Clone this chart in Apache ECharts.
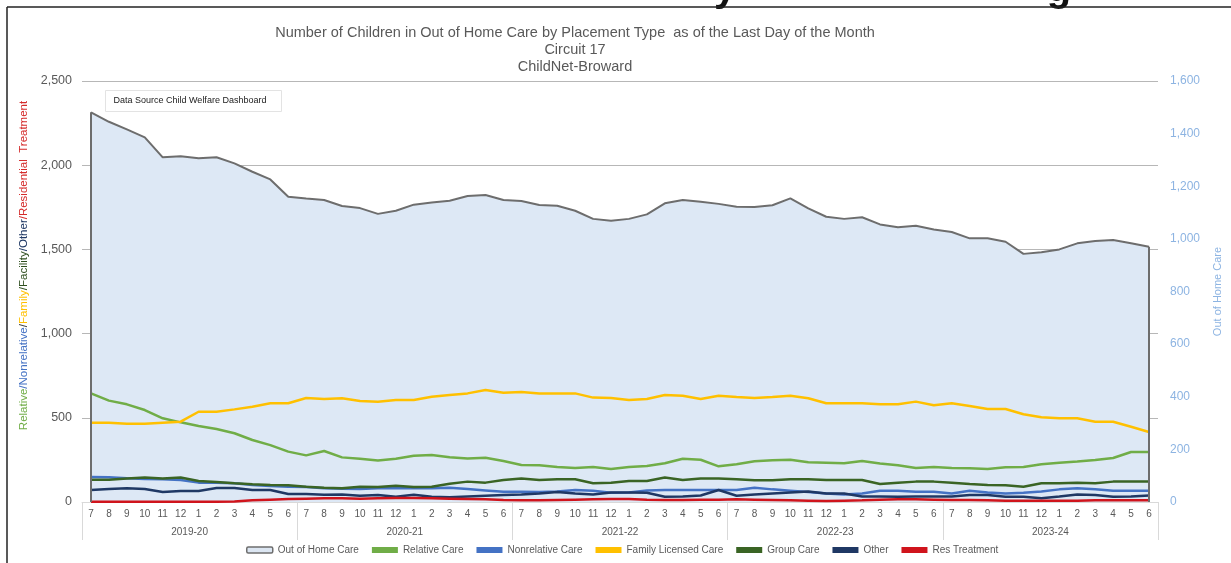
<!DOCTYPE html>
<html>
<head>
<meta charset="utf-8">
<script src="https://cdn.jsdelivr.net/npm/echarts@6/dist/echarts.min.js"></script>
<style>
  html, body { margin: 0; padding: 0; background: #fff; }
  #chart { width: 1231px; height: 563px; }
</style>
</head>
<body>
<div id="chart"></div>
<script>
// Fiscal years and the month numbers shown under each point (July .. June)
const fiscalYears = ['2019-20', '2020-21', '2021-22', '2022-23', '2023-24'];
const months = ['7', '8', '9', '10', '11', '12', '1', '2', '3', '4', '5', '6'];

// Monthly counts, July 2019 through June 2024
const outOfHomeCare = [1481, 1445, 1416, 1386, 1310, 1314, 1306, 1310, 1287, 1255, 1226, 1160,
  1153, 1148, 1125, 1117, 1095, 1107, 1130, 1138, 1145, 1163, 1167, 1148,
  1144, 1129, 1126, 1107, 1076, 1069, 1076, 1093, 1135, 1148, 1141, 1133,
  1122, 1121, 1128, 1154, 1116, 1084, 1076, 1082, 1055, 1044, 1050, 1036,
  1026, 1002, 1002, 989, 943, 949, 960, 983, 992, 996, 983, 970];
const relativeCare = [645, 602, 580, 546, 497, 473, 451, 433, 408, 368, 338, 299,
  277, 303, 265, 257, 247, 257, 275, 279, 266, 259, 263, 243,
  220, 218, 208, 202, 208, 196, 208, 214, 230, 257, 251, 212,
  224, 242, 248, 251, 236, 233, 230, 243, 228, 218, 202, 208,
  202, 200, 196, 206, 208, 224, 233, 240, 249, 261, 297, 297];
const nonrelativeCare = [148, 147, 141, 137, 135, 131, 115, 115, 111, 101, 95, 91,
  89, 81, 79, 77, 81, 81, 81, 81, 84, 77, 69, 61,
  61, 59, 63, 71, 67, 55, 57, 69, 71, 71, 71, 71,
  71, 85, 75, 67, 59, 51, 45, 51, 67, 67, 61, 61,
  51, 67, 57, 51, 55, 63, 75, 81, 75, 67, 67, 67];
const familyLicensedCare = [471, 471, 465, 465, 471, 477, 536, 536, 550, 566, 586, 586,
  618, 612, 616, 600, 596, 606, 606, 625, 636, 645, 665, 649,
  653, 645, 645, 645, 620, 618, 606, 612, 635, 631, 612, 631,
  624, 618, 624, 631, 616, 586, 586, 586, 580, 580, 596, 574,
  586, 570, 552, 552, 521, 503, 497, 497, 477, 477, 447, 416];
const groupCare = [132, 132, 140, 146, 139, 146, 125, 119, 111, 105, 101, 99,
  91, 85, 81, 91, 89, 97, 89, 91, 108, 121, 115, 131,
  139, 131, 135, 135, 111, 115, 125, 125, 145, 131, 139, 139,
  135, 129, 129, 135, 135, 131, 131, 131, 107, 115, 121, 121,
  115, 107, 101, 99, 91, 111, 111, 115, 111, 121, 121, 121];
const other = [71, 77, 81, 77, 59, 65, 65, 83, 83, 71, 71, 47,
  47, 43, 45, 37, 41, 31, 43, 31, 28, 33, 37, 41,
  45, 51, 59, 51, 45, 57, 57, 55, 31, 33, 39, 71,
  37, 45, 51, 57, 63, 51, 51, 33, 33, 31, 33, 33,
  33, 41, 41, 31, 31, 22, 33, 45, 41, 31, 33, 39];
const resTreatment = [2, 2, 2, 2, 2, 2, 2, 2, 3, 10, 14, 18,
  20, 22, 22, 20, 22, 24, 24, 22, 20, 18, 16, 12,
  10, 10, 12, 14, 16, 18, 18, 14, 12, 12, 14, 14,
  16, 14, 12, 10, 8, 6, 8, 10, 14, 16, 16, 14,
  12, 12, 10, 8, 8, 8, 8, 8, 10, 10, 10, 10];

// One unique category per month: "2019-20|7" etc.
const categories = [];
fiscalYears.forEach(fy => months.forEach(m => categories.push(fy + '|' + m)));
const last = categories.length - 1;

const FONT = "'Liberation Sans', Arial, sans-serif";
const NARROW = "'Liberation Sans Narrow', 'Liberation Sans', Arial, sans-serif";
const GRAY = '#595959';
const AXIS_BLUE = '#8db4e2';

const chart = echarts.init(document.getElementById('chart'), null, { renderer: 'canvas' });

const lineSeries = (name, data, color) => ({
  name, type: 'line', data, xAxisIndex: 0, yAxisIndex: 0,
  symbol: 'none', smooth: false,
  lineStyle: { color, width: 2.5 }, itemStyle: { color },
  z: 3
});

const nameFont = { fontFamily: FONT, fontSize: 11.5 };

chart.setOption({
  animation: false,
  backgroundColor: '#ffffff',
  title: {
    text: 'Number of Children in Out of Home Care by Placement Type  as of the Last Day of the Month\nCircuit 17\nChildNet-Broward',
    left: 570, top: 19, textAlign: 'center',
    textStyle: { fontFamily: FONT, fontSize: 14.5, fontWeight: 'normal', color: GRAY, lineHeight: 17 }
  },
  grid: [
    { left: 91, right: 82, top: 81, bottom: 61, containLabel: false },
    { left: 82, right: 73, top: 81, bottom: 61, containLabel: false }
  ],
  xAxis: [
    {
      type: 'category', gridIndex: 0, data: categories, boundaryGap: false,
      axisLine: { show: false }, axisTick: { show: false },
      axisLabel: {
        interval: 0, margin: 7, fontFamily: FONT, fontSize: 10, color: GRAY,
        formatter: v => v.split('|')[1]
      },
      splitLine: { show: false }
    },
    {
      type: 'category', gridIndex: 1, data: fiscalYears, boundaryGap: true,
      axisLine: { show: true, lineStyle: { color: '#d9d9d9', width: 1 } },
      axisTick: { show: true, interval: 0, length: 38, lineStyle: { color: '#d9d9d9', width: 1 } },
      axisLabel: { interval: 0, margin: 25, fontFamily: FONT, fontSize: 10, color: GRAY },
      splitLine: { show: false }
    }
  ],
  yAxis: [
    {
      type: 'value', gridIndex: 0, position: 'left', min: 0, max: 2500, interval: 500,
      axisLine: { show: false }, axisTick: { show: false }, splitLine: { show: false },
      axisLabel: { margin: 19, fontFamily: FONT, fontSize: 12.5, color: GRAY },
      name: '{g|Relative}{b|/Nonrelative}{k|/}{y|Family}{d|/Facility}{n|/Other}{r|/Residential  Treatment}',
      nameLocation: 'middle', nameRotate: 90, nameGap: 56,
      nameTextStyle: {
        fontFamily: FONT, fontSize: 11.5, padding: [0, 0, 0, 52],
        rich: {
          g: Object.assign({ color: '#70ad47' }, nameFont),
          b: Object.assign({ color: '#4472c4' }, nameFont),
          k: Object.assign({ color: '#404040' }, nameFont),
          y: Object.assign({ color: '#ffc000' }, nameFont),
          d: Object.assign({ color: '#2f4f1f' }, nameFont),
          n: Object.assign({ color: '#1f3864' }, nameFont),
          r: Object.assign({ color: '#d42a2a' }, nameFont)
        }
      }
    },
    {
      type: 'value', gridIndex: 0, position: 'right', min: 0, max: 1600, interval: 200,
      axisLine: { show: false }, axisTick: { show: false }, splitLine: { show: false },
      axisLabel: { margin: 21, fontFamily: FONT, fontSize: 12, color: AXIS_BLUE },
      name: 'Out of Home Care', nameLocation: 'middle', nameRotate: 90, nameGap: 63,
      nameTextStyle: { fontFamily: FONT, fontSize: 11, color: AXIS_BLUE }
    },
    {
      type: 'value', gridIndex: 1, min: 0, max: 2500, interval: 500,
      axisLine: { show: false }, axisTick: { show: false }, axisLabel: { show: false },
      splitLine: { show: true, lineStyle: { color: '#b7b7b7', width: 1 } }
    }
  ],
  legend: {
    bottom: 3, left: 241, itemGap: 13, itemWidth: 26, itemHeight: 6,
    textStyle: { fontFamily: NARROW, fontSize: 10, color: GRAY },
    data: [
      { name: 'Out of Home Care', icon: 'roundRect', itemStyle: { color: '#dce6f2', borderColor: '#6d6d6d', borderWidth: 1.5 } },
      { name: 'Relative Care', icon: 'rect' },
      { name: 'Nonrelative Care', icon: 'rect' },
      { name: 'Family Licensed Care', icon: 'rect' },
      { name: 'Group Care', icon: 'rect' },
      { name: 'Other', icon: 'rect' },
      { name: 'Res Treatment', icon: 'rect' }
    ]
  },
  series: [
    {
      name: 'Out of Home Care', type: 'line', data: outOfHomeCare,
      xAxisIndex: 0, yAxisIndex: 1, symbol: 'none', z: 2,
      lineStyle: { color: '#6d6d6d', width: 2 },
      itemStyle: { color: '#dce6f2', borderColor: '#6d6d6d' },
      areaStyle: { color: '#dde8f5', opacity: 1 },
      markLine: {
        silent: true, symbol: ['none', 'none'], label: { show: false },
        lineStyle: { color: '#6d6d6d', width: 2, type: 'solid' },
        data: [
          [{ coord: [categories[0], 0] }, { coord: [categories[0], outOfHomeCare[0]] }],
          [{ coord: [categories[last], 0] }, { coord: [categories[last], outOfHomeCare[last]] }]
        ]
      }
    },
    lineSeries('Relative Care', relativeCare, '#70ad47'),
    lineSeries('Nonrelative Care', nonrelativeCare, '#4472c4'),
    lineSeries('Family Licensed Care', familyLicensedCare, '#ffc000'),
    lineSeries('Group Care', groupCare, '#3a6424'),
    lineSeries('Other', other, '#1f3864'),
    lineSeries('Res Treatment', resTreatment, '#d0141c')
  ],
  graphic: [
    // page heading above the chart frame; only its descenders fall inside the view
    { type: 'text', z: 100, style: { x: 725, y: -30, text: 'y', font: "bold 40px 'Liberation Sans', Arial", fill: '#111', align: 'center', verticalAlign: 'top' } },
    { type: 'text', z: 100, style: { x: 1059, y: -30, text: 'g', font: "bold 40px 'Liberation Sans', Arial", fill: '#111', align: 'center', verticalAlign: 'top' } },
    // page frame
    { type: 'line', shape: { x1: 7, y1: 7, x2: 1231, y2: 7 }, style: { stroke: '#222', lineWidth: 1.5 }, z: 100 },
    { type: 'line', shape: { x1: 7, y1: 7, x2: 7, y2: 563 }, style: { stroke: '#222', lineWidth: 1.5 }, z: 100 },
    // data source note
    {
      type: 'group', left: 105, top: 90, z: 100,
      children: [
        { type: 'rect', shape: { x: 0, y: 0, width: 176, height: 21 }, style: { fill: '#ffffff', stroke: '#e3e3e3', lineWidth: 1 } },
        { type: 'text', style: { x: 8, y: 10.5, text: 'Data Source Child Welfare Dashboard', font: "9px " + NARROW, fill: '#222', verticalAlign: 'middle', textVerticalAlign: 'middle' } }
      ]
    }
  ]
});
</script>
</body>
</html>
